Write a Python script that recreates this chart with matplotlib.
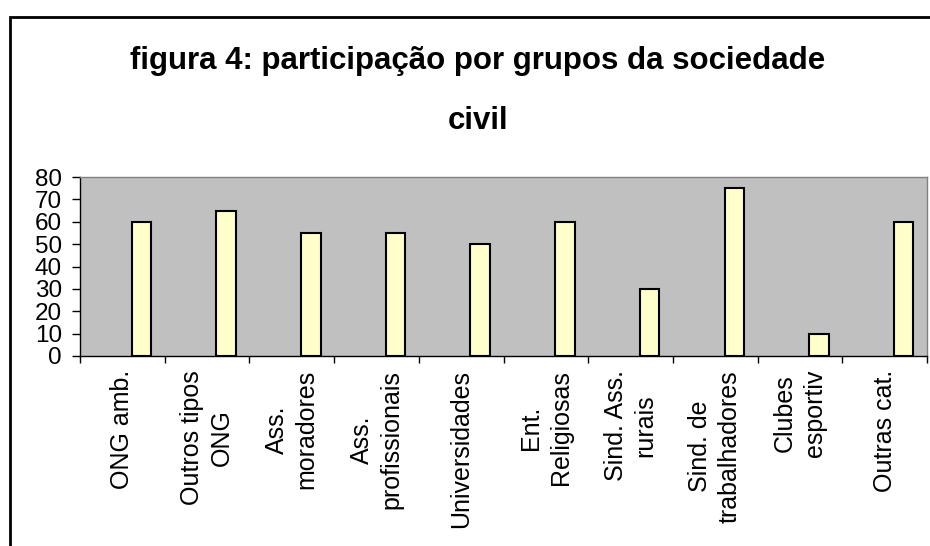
import matplotlib
matplotlib.use("Agg")
import matplotlib.pyplot as plt
from matplotlib.lines import Line2D
import numpy as np

categories = ["ONG amb.", "Outros tipos\nONG", "Ass.\nmoradores", "Ass.\nprofissionais",
              "Universidades", "Ent.\nReligiosas", "Sind. Ass.\nrurais",
              "Sind. de\ntrabalhadores", "Clubes\nesportiv", "Outras cat."]
values = [60, 65, 55, 55, 50, 60, 30, 75, 10, 60]
y_ticks = [0, 10, 20, 30, 40, 50, 60, 70, 80]

plt.rcParams["font.family"] = ["Liberation Sans", "DejaVu Sans"]

W, H = 930, 546
fig = plt.figure(figsize=(W / 100, H / 100), dpi=100)

# outer chart frame (only top and left edges are inside the picture)
fx, fy = 10 / W, 1 - 17 / H
fig.add_artist(Line2D([fx, fx, 1.01], [-0.01, fy, fy], transform=fig.transFigure,
                      color="black", lw=2, solid_joinstyle="miter"))

fig.text(478 / W, 1 - 69 / H, "figura 4: participação por grupos da sociedade",
         ha="center", va="baseline", fontsize=22.5, fontweight="bold")
fig.text(478 / W, 1 - 129 / H, "civil",
         ha="center", va="baseline", fontsize=22.5, fontweight="bold")

ax = fig.add_axes([80 / W, 1 - 356 / H, (927 - 80) / W, (356 - 177) / H])
ax.set_facecolor("#C0C0C0")

x = np.arange(len(values))
ax.bar(x + 0.725, values, width=0.23, color="#FFFFCC", edgecolor="black", linewidth=1.5, zorder=3)

ax.set_xlim(0, len(values))
ax.set_ylim(0, 80)
ax.set_yticks(y_ticks)
ax.tick_params(axis="y", direction="out", length=6, width=1, labelsize=17.5, pad=7)

ax.set_xticks(np.arange(len(values) + 1))
ax.set_xticklabels([])
ax.tick_params(axis="x", which="major", direction="out", length=5, width=1)
ax.set_xticks(x + 0.5, minor=True)
ax.set_xticklabels(categories, minor=True, rotation=90, fontsize=18,
                   va="top", ha="center", multialignment="center", linespacing=1.3)
ax.tick_params(axis="x", which="minor", length=0, pad=10)

for side in ("top", "right"):
    ax.spines[side].set_color("#808080")
    ax.spines[side].set_linewidth(1)
for side in ("left", "bottom"):
    ax.spines[side].set_color("black")
    ax.spines[side].set_linewidth(1)

fig.savefig("out.png", dpi=100)
